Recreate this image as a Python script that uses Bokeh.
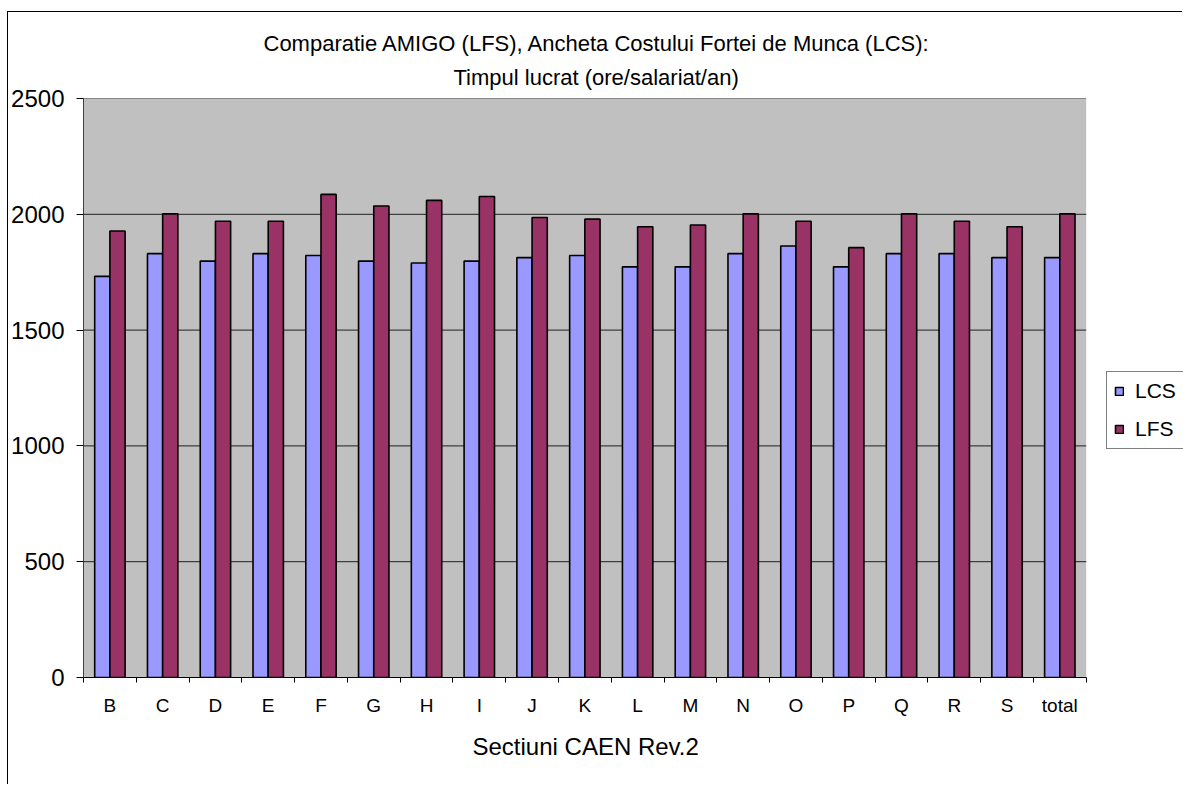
from bokeh.plotting import figure
from bokeh.models import Range1d, FixedTicker, ColumnDataSource, Title, Legend, LegendItem
from bokeh.transform import dodge
from bokeh.embed import file_html
from bokeh.resources import INLINE

categories = ["B", "C", "D", "E", "F", "G", "H", "I", "J", "K", "L", "M",
              "N", "O", "P", "Q", "R", "S", "total"]
lcs = [1732, 1830, 1798, 1830, 1822, 1798, 1790, 1798, 1813, 1822, 1773, 1773,
       1830, 1863, 1773, 1830, 1830, 1813, 1813]
lfs = [1928, 2002, 1970, 1970, 2086, 2036, 2060, 2077, 1986, 1979, 1946, 1954,
       2002, 1970, 1856, 2002, 1970, 1946, 2002]
y_ticks = [0, 500, 1000, 1500, 2000, 2500]

title_line1 = "Comparatie AMIGO (LFS), Ancheta Costului Fortei de Munca (LCS):"
title_line2 = "Timpul lucrat (ore/salariat/an)"
x_title = "Sectiuni CAEN Rev.2"

FONT = "Liberation Sans"

n = len(categories)
centers = [i + 0.5 for i in range(n)]
source = ColumnDataSource(dict(x=centers, lcs=lcs, lfs=lfs, cat=categories))

# layout: plot area is 1002.7 px wide for the n categories; the frame extends
# further right (white) so that the legend can sit beside the plot area
W, H = 1175, 773
LEFT, TOP, BOTTOM = 75, 86, 108
frame_px = W - LEFT
plot_px = 1002.7
x_end = n * frame_px / plot_px

p = figure(width=W, height=H, output_backend="svg", toolbar_location=None,
           x_range=Range1d(0, x_end), y_range=Range1d(0, y_ticks[-1]),
           min_border_left=LEFT, min_border_right=0, min_border_top=TOP,
           min_border_bottom=BOTTOM)
p.styles = {"margin-left": "7px", "margin-top": "11px",
            "border-left": "1px solid black", "border-top": "1px solid black"}

p.background_fill_color = "white"
p.border_fill_color = "white"
p.outline_line_color = None

# grey plot area and gridlines
p.quad(left=0, right=n, bottom=0, top=y_ticks[-1], fill_color="#C0C0C0", line_color=None)
p.segment(x0=[0] * len(y_ticks), x1=[n] * len(y_ticks), y0=y_ticks, y1=y_ticks,
          line_color="#202020", line_width=1)

bw = 0.288
r1 = p.vbar(x=dodge("x", -bw / 2), top="lcs", width=bw, source=source,
            fill_color="#9999FF", line_color="black", line_width=1.6)
r2 = p.vbar(x=dodge("x", bw / 2), top="lfs", width=bw, source=source,
            fill_color="#993366", line_color="black", line_width=1.6)

# titles (added bottom-up: closest to frame first), centred over the plot area
t2 = Title(text=title_line2, align="left", offset=370, text_font=FONT,
           text_font_size="22px", text_font_style="normal", text_color="black",
           standoff=18)
t1 = Title(text=title_line1, align="left", offset=180, text_font=FONT,
           text_font_size="22px", text_font_style="normal", text_color="black",
           standoff=-5)
p.add_layout(t2, "above")
p.add_layout(t1, "above")

# x axis
xa = p.xaxis[0]
xa.bounds = (0, n)
xa.ticker = FixedTicker(ticks=centers, minor_ticks=list(range(n + 1)))
xa.major_label_overrides = {c: lab for c, lab in zip(centers, categories)}
xa.major_tick_out = 0
xa.major_tick_in = 0
xa.minor_tick_out = 5
xa.minor_tick_in = 0
xa.minor_tick_line_color = "black"
xa.axis_line_color = "black"
xa.major_label_text_font = FONT
xa.major_label_text_font_size = "19px"
xa.major_label_text_color = "black"
xa.major_label_standoff = 12

# x axis title, centred under the plot area
xt = Title(text=x_title, align="left", offset=389, text_font=FONT,
           text_font_size="24px", text_font_style="normal", text_color="black",
           standoff=24)
p.add_layout(xt, "below")

# y axis
ya = p.yaxis[0]
ya.ticker = FixedTicker(ticks=y_ticks)
ya.major_tick_out = 7
ya.major_tick_in = 0
ya.minor_tick_line_color = None
ya.axis_line_color = "#404040"
ya.major_tick_line_color = "black"
ya.major_label_text_font = FONT
ya.major_label_text_font_size = "24px"
ya.major_label_text_color = "black"
ya.major_label_standoff = 12

p.xgrid.grid_line_color = None
p.ygrid.grid_line_color = None

lg = Legend(items=[LegendItem(label="LCS", renderers=[r1]),
                   LegendItem(label="LFS", renderers=[r2])])
lg.location = (1023, 228)
lg.orientation = "vertical"
lg.label_text_font = FONT
lg.label_text_font_size = "21px"
lg.label_text_color = "black"
lg.glyph_width = 10
lg.glyph_height = 10
lg.label_height = 24
lg.spacing = 14
lg.padding = 7
lg.margin = 0
lg.label_standoff = 11
lg.border_line_color = "black"
lg.border_line_width = 1
lg.background_fill_color = "white"
lg.background_fill_alpha = 1
p.add_layout(lg, "center")

open("out.html", "w").write(file_html(p, INLINE))
